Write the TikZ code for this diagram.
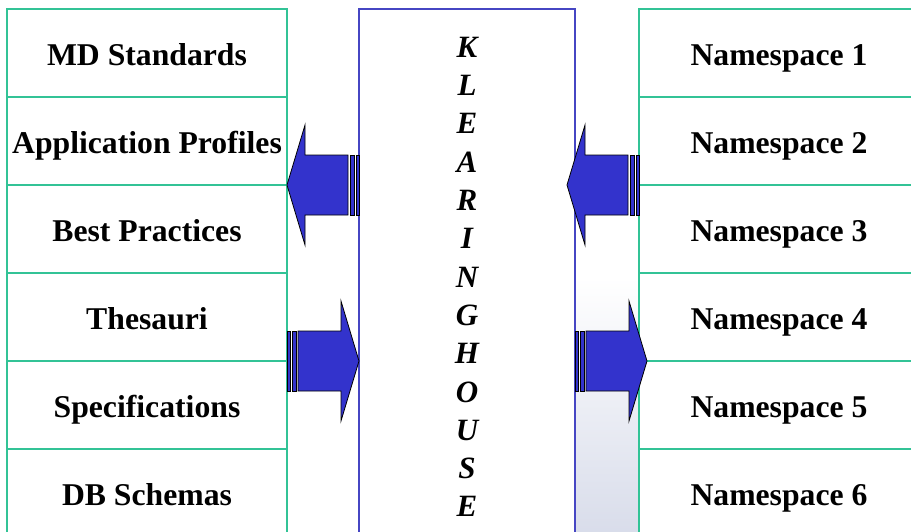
\documentclass[tikz,border=0pt]{standalone}
\usepackage{fontspec}
\setmainfont{Liberation Serif}
\usepackage{tikz}
\usetikzlibrary{positioning, backgrounds}

\definecolor{rowline}{RGB}{50,195,150}
\definecolor{hubline}{RGB}{70,70,195}
\definecolor{arrowblue}{RGB}{51,51,204}
\definecolor{slidegray}{RGB}{216,220,234}

\begin{document}
\begin{tikzpicture}[x=1pt, y=1pt,
    rowbox/.style={draw=rowline, line width=1.1pt, fill=white, outer sep=0pt, inner sep=0pt,
        minimum width=280pt, minimum height=88pt, text height=24pt, text depth=0pt,
        font=\fontsize{31.7}{38}\selectfont\bfseries},
    hubbox/.style={draw=hubline, line width=1.1pt, fill=white, outer sep=0pt, inner sep=0pt,
        minimum width=216pt, minimum height=536pt, align=center,
        font=\fontsize{31}{38.3}\selectfont\bfseries\itshape},
    arrowbody/.style={draw=black, line width=0.8pt, fill=arrowblue, line join=miter},
    blockarrow/.pic={
        \draw[arrowbody] (0,0) -- (-18,60) -- (-18,30) -- (-61,30) -- (-61,-30) -- (-18,-30) -- (-18,-60) -- cycle;
        \draw[arrowbody] (-63,30) rectangle (-67,-30);
        \draw[arrowbody] (-69,30) rectangle (-72,-30);
    }]

        \useasboundingbox (0,0) rectangle (911,-531);

        % left column
        \node[rowbox] (m1) at (147,-53) {MD Standards};
        \node[rowbox] (m2) [below=0pt of m1] {Application Profiles};
        \node[rowbox] (m3) [below=0pt of m2] {Best Practices};
        \node[rowbox] (m4) [below=0pt of m3] {Thesauri};
        \node[rowbox] (m5) [below=0pt of m4] {Specifications};
        \node[rowbox] (m6) [below=0pt of m5] {DB Schemas};

        % clearinghouse
        \node[hubbox, anchor=north west] (kh) at ([xshift=72pt]m1.north east)
            {K\\L\\E\\A\\R\\I\\N\\G\\H\\O\\U\\S\\E};

        % right column
        \node[rowbox, anchor=north west] (n1) at ([xshift=64pt]kh.north east) {Namespace 1};
        \node[rowbox] (n2) [below=0pt of n1] {Namespace 2};
        \node[rowbox] (n3) [below=0pt of n2] {Namespace 3};
        \node[rowbox] (n4) [below=0pt of n3] {Namespace 4};
        \node[rowbox] (n5) [below=0pt of n4] {Namespace 5};
        \node[rowbox] (n6) [below=0pt of n5] {Namespace 6};

        % pale slide background in the gap
        \begin{scope}[on background layer]
            \shade[top color=white, bottom color=slidegray]
                (kh.east) rectangle (n6.south west);
        \end{scope}

        % arrows
        \path (m2.south east) pic[xscale=-1] {blockarrow};
        \path (kh.west |- m4.south) pic {blockarrow};
        \path ([xshift=-72pt]n2.south west) pic[xscale=-1] {blockarrow};
        \path ([xshift=72pt]kh.east |- n4.south) pic {blockarrow};

\end{tikzpicture}
\end{document}
